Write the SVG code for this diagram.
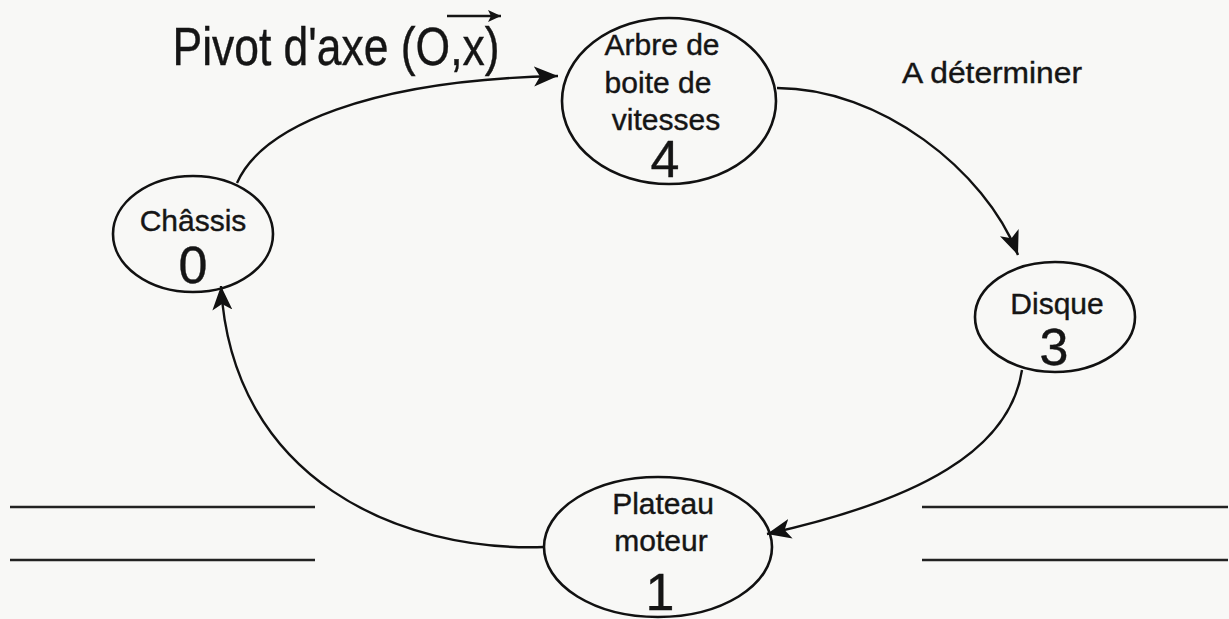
<svg xmlns="http://www.w3.org/2000/svg" width="1229" height="619" viewBox="0 0 1229 619">
<style>
.node ellipse{fill:none;stroke:#111;stroke-width:2.6}
.lbl{font-family:"Liberation Sans",Arial,sans-serif;fill:#151515;text-anchor:middle;stroke:#151515;stroke-width:0.4}
.t{font-size:30px}
.n{font-size:52px}
.conn path{fill:none;stroke:#111;stroke-width:2.4}
.rule{stroke:#222;stroke-width:2.4}
</style>
<defs>
<marker id="ah" markerUnits="userSpaceOnUse" markerWidth="26" markerHeight="22" viewBox="0 0 26 22" refX="24" refY="11" orient="auto">
<path d="M0,1 L24,11 L0,21 L6,11 z" fill="#111"/>
</marker>
<marker id="ahs" markerUnits="userSpaceOnUse" markerWidth="14" markerHeight="12" viewBox="0 0 14 12" refX="13" refY="6" orient="auto">
<path d="M0,0 L13,6 L0,12 L3,6 z" fill="#151515"/>
</marker>
</defs>
<rect width="1229" height="619" fill="#f8f8f6"/>

<g id="title">
<text class="lbl" x="336" y="65" font-size="54" textLength="327" lengthAdjust="spacingAndGlyphs">Pivot d'axe (O,x)</text>
<line x1="447" y1="16" x2="501" y2="16" stroke="#151515" stroke-width="2.4" marker-end="url(#ahs)"/>
</g>
<g id="label-determiner">
<text class="lbl t" x="992" y="83" textLength="180" lengthAdjust="spacingAndGlyphs">A déterminer</text>
</g>

<g class="conn" id="connectors">
<path d="M237,183 C262,126 370,80 558,76" marker-end="url(#ah)"/>
<path d="M777,88 C880,88 985,170 1018,255" marker-end="url(#ah)"/>
<path d="M1022,370 C1010,450 920,500 767,534" marker-end="url(#ah)"/>
<path d="M544,547 C400,552 232,480 221,286" marker-end="url(#ah)"/>
</g>

<g class="node" id="node-0">
<ellipse cx="193" cy="234" rx="80" ry="58"/>
<text class="lbl t" x="193" y="231">Châssis</text>
<text class="lbl n" x="193" y="283">0</text>
</g>
<g class="node" id="node-4">
<ellipse cx="669" cy="101" rx="107" ry="83"/>
<text class="lbl t" x="662" y="55">Arbre de</text>
<text class="lbl t" x="658" y="93">boite de</text>
<text class="lbl t" x="666" y="130">vitesses</text>
<text class="lbl n" x="665" y="177" font-size="48">4</text>
</g>
<g class="node" id="node-3">
<ellipse cx="1055" cy="317" rx="80" ry="55"/>
<text class="lbl t" x="1057" y="314">Disque</text>
<text class="lbl n" x="1054" y="365">3</text>
</g>
<g class="node" id="node-1">
<ellipse cx="658" cy="547" rx="114" ry="70"/>
<text class="lbl t" x="663" y="514">Plateau</text>
<text class="lbl t" x="661" y="551">moteur</text>
<text class="lbl n" x="660" y="610" font-size="60">1</text>
</g>

<g id="rules">
<line class="rule" x1="10" y1="507" x2="315" y2="507"/>
<line class="rule" x1="10" y1="560" x2="315" y2="560"/>
<line class="rule" x1="922" y1="507" x2="1228" y2="507"/>
<line class="rule" x1="922" y1="560" x2="1228" y2="560"/>
</g>
</svg>
